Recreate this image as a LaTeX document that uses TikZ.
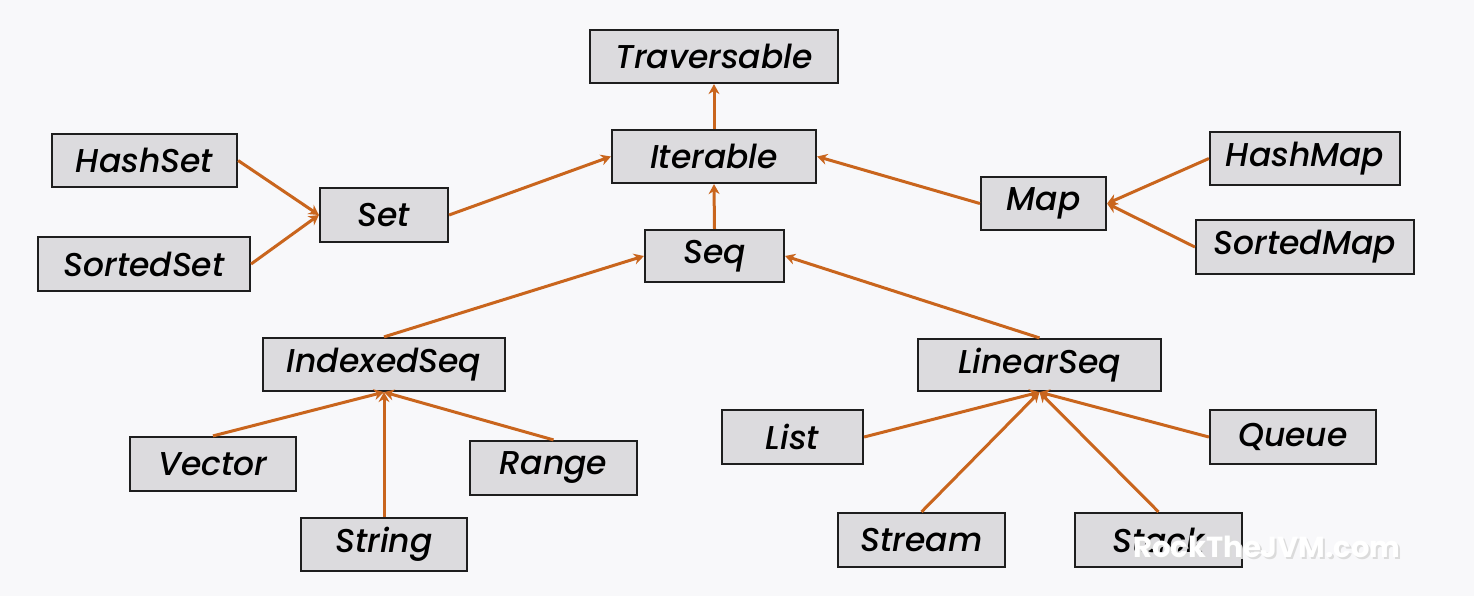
\documentclass[tikz,border=0pt]{standalone}
\usepackage{fontspec}
\setmainfont{Poppins}[ItalicFont={Poppins Medium Italic}]
\usetikzlibrary{arrows.meta}
\definecolor{bg}{HTML}{F8F8FA}
\definecolor{boxfill}{HTML}{DCDBDE}
\definecolor{boxline}{HTML}{1E1E1E}
\definecolor{arr}{HTML}{C9651D}
\tikzset{
  cls/.style={draw=boxline, fill=boxfill, line width=1.1pt, inner sep=0pt,
    font=\fontsize{16.5}{19}\selectfont\itshape, text=black},
  sz/.style 2 args={minimum width=#1*0.5pt, minimum height=#2*0.5pt},
  inh/.style={draw=arr, line width=1.5pt, -{Stealth[length=5pt,width=5.5pt]}},
  wmark/.style={font=\fontsize{14.5}{16}\selectfont\bfseries},
}
\begin{document}
\begin{tikzpicture}[x=0.5pt,y=-0.5pt]
\fill[bg] (0,0) rectangle (1474,596);
\useasboundingbox (0,0) rectangle (1474,596);
\node[cls,sz={248}{53}] (trav) at (714,56.5) {Traversable};
\node[cls,sz={204}{53}] (iter) at (714,156.5) {Iterable};
\node[cls,sz={185}{53}] (hset) at (144.5,160.5) {HashSet};
\node[cls,sz={212}{54}] (sset) at (144,264) {SortedSet};
\node[cls,sz={128}{54}] (set) at (384,215) {Set};
\node[cls,sz={139}{52}] (seq) at (714.5,256) {Seq};
\node[cls,sz={125}{53}] (map) at (1043.5,203.5) {Map};
\node[cls,sz={190}{53}] (hmap) at (1305,158.5) {HashMap};
\node[cls,sz={218}{54}] (smap) at (1305,247) {SortedMap};
\node[cls,sz={242}{53}] (iseq) at (384,364.5) {IndexedSeq};
\node[cls,sz={243}{52}] (lseq) at (1039.5,365) {LinearSeq};
\node[cls,sz={166}{54}] (vec) at (213,464) {Vector};
\node[cls,sz={166}{53}] (str) at (384,544.5) {String};
\node[cls,sz={167}{54}] (rng) at (553.5,468) {Range};
\node[cls,sz={141}{54}] (list) at (792.5,437) {List};
\node[cls,sz={166}{54}] (queue) at (1293,437) {Queue};
\node[cls,sz={167}{54}] (strm) at (921.5,540) {Stream};
\node[cls,sz={167}{54}] (stack) at (1158.5,540) {Stack};
\draw[inh] (iter.north) -- (trav.south);
\draw[inh] (seq.north) -- (iter.south);
\draw[inh] (set.east) -- (iter.west);
\draw[inh] (map.west) -- (iter.east);
\draw[inh] (hset.east) -- (set.west);
\draw[inh] (sset.east) -- (set.west);
\draw[inh] (hmap.west) -- (map.east);
\draw[inh] (smap.west) -- (map.east);
\draw[inh] (iseq.north) -- (seq.west);
\draw[inh] (lseq.north) -- (seq.east);
\draw[inh] (vec.north) -- (iseq.south);
\draw[inh] (str.north) -- (iseq.south);
\draw[inh] (rng.north) -- (iseq.south);
\draw[inh] (list.east) -- (lseq.south);
\draw[inh] (queue.west) -- (lseq.south);
\draw[inh] (strm.north) -- (lseq.south);
\draw[inh] (stack.north) -- (lseq.south);
\node[wmark, text=black!14] (wmshadow) at (1269,549) {RockTheJVM.com};
\node[wmark, text=white] (wm) at (1267,547) {RockTheJVM.com};
\end{tikzpicture}
\end{document}
